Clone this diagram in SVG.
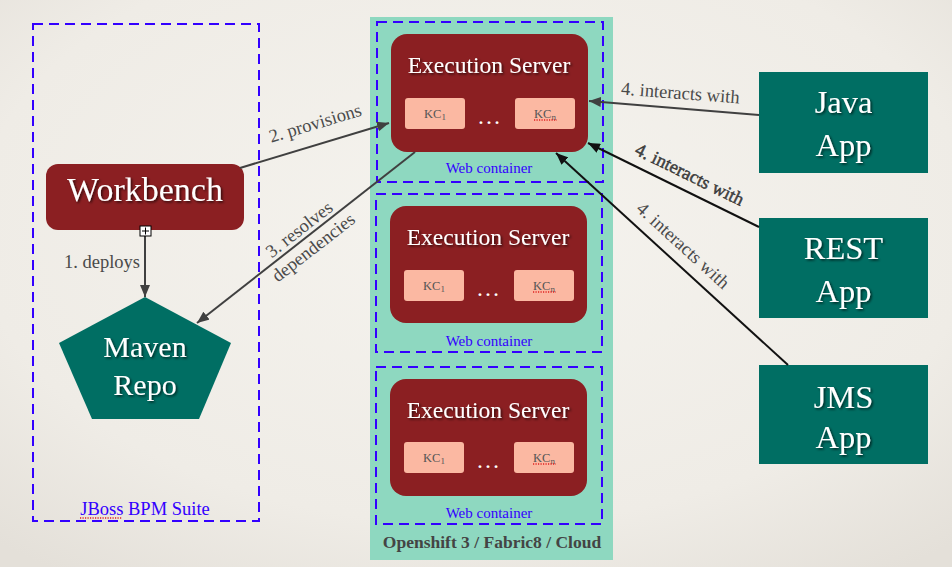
<svg xmlns="http://www.w3.org/2000/svg" width="952" height="567" viewBox="0 0 952 567">
<defs>
<radialGradient id="bg" cx="50%" cy="40%" r="75%">
<stop offset="0" stop-color="#f5f3ee"/>
<stop offset="0.7" stop-color="#efece6"/>
<stop offset="1" stop-color="#e4e0d9"/>
</radialGradient>
<filter id="sh" x="-10%" y="-20%" width="130%" height="150%">
<feDropShadow dx="1.5" dy="1.5" stdDeviation="1.2" flood-color="#000" flood-opacity="0.65"/>
</filter>
<marker id="ag" markerUnits="userSpaceOnUse" markerWidth="14" markerHeight="10" refX="12" refY="5" orient="auto">
<path d="M0,0 L12,5 L0,10 z" fill="#404040"/>
</marker>
<marker id="ab" markerUnits="userSpaceOnUse" markerWidth="14" markerHeight="10" refX="12" refY="5" orient="auto">
<path d="M0,0 L12,5 L0,10 z" fill="#111"/>
</marker>
<style>
.dash{fill:none;stroke:#3300ff;stroke-width:2;stroke-dasharray:10 6}
.srv{fill:#8b1f22}
.kc{fill:#fbb8a2}
.teal{fill:#006e63}
.wt{fill:#fff;font-family:"Liberation Serif",serif;text-anchor:middle;filter:url(#sh)}
.kct{fill:#555;font-family:"Liberation Serif",serif;font-size:12.5px;text-anchor:middle}
.blue{fill:#3300ff;font-family:"Liberation Serif",serif;text-anchor:middle}
.lbl{fill:#4a4a4a;font-family:"Liberation Serif",serif;font-size:18.5px}
.cg{fill:none;stroke:#404040;stroke-width:2;marker-end:url(#ag)}
.cb{fill:none;stroke:#111;stroke-width:2;marker-end:url(#ab)}
.spell{fill:none;stroke:#e02020;stroke-width:1.3;stroke-dasharray:1.2 1.3}
</style>
</defs>
<rect width="952" height="567" fill="url(#bg)"/>

<g id="jboss-suite">
<rect class="dash" x="33" y="24" width="226" height="497"/>
<text class="blue" x="145" y="515" font-size="18.5">JBoss BPM Suite</text>
<line class="spell" x1="80" y1="518" x2="122" y2="518"/>
</g>

<g id="openshift">
<rect x="370" y="17" width="243" height="543" fill="#8ed8c0"/>
<text x="492" y="548" font-family="Liberation Serif, serif" font-weight="bold" font-size="17.5" fill="#444" text-anchor="middle">Openshift 3 / Fabric8 / Cloud</text>
</g>

<g id="web-container-1">
<rect class="dash" x="377" y="22" width="226" height="160"/>
<text class="blue" x="489" y="173" font-size="15">Web container</text>
</g>
<g id="web-container-2">
<rect class="dash" x="376" y="194" width="226" height="158"/>
<text class="blue" x="489" y="345.5" font-size="15">Web container</text>
</g>
<g id="web-container-3">
<rect class="dash" x="376" y="367" width="226" height="157"/>
<text class="blue" x="489" y="518" font-size="15">Web container</text>
</g>

<g id="execution-server-1">
<rect class="srv" x="391" y="34" width="197" height="118" rx="16"/>
<text class="wt" x="489" y="73" font-size="23.5">Execution Server</text>
<rect class="kc" x="405" y="98" width="60" height="31" rx="3"/>
<rect class="kc" x="515" y="98" width="60" height="31" rx="3"/>
<text class="kct" x="435" y="117.5">KC<tspan font-size="9" dy="2">1</tspan></text>
<text class="kct" x="545" y="117.5">KC<tspan font-size="9" dy="2">n</tspan></text>
<line class="spell" x1="534" y1="120" x2="557" y2="120"/>
<text x="489" y="124" font-family="Liberation Serif, serif" font-size="24" fill="#fff" text-anchor="middle">…</text>
</g>
<g id="execution-server-2">
<rect class="srv" x="390" y="206" width="197" height="117" rx="16"/>
<text class="wt" x="488" y="245" font-size="23.5">Execution Server</text>
<rect class="kc" x="404" y="270" width="60" height="31" rx="3"/>
<rect class="kc" x="514" y="270" width="60" height="31" rx="3"/>
<text class="kct" x="434" y="289.5">KC<tspan font-size="9" dy="2">1</tspan></text>
<text class="kct" x="544" y="289.5">KC<tspan font-size="9" dy="2">n</tspan></text>
<line class="spell" x1="533" y1="292" x2="556" y2="292"/>
<text x="488" y="296" font-family="Liberation Serif, serif" font-size="24" fill="#fff" text-anchor="middle">…</text>
</g>
<g id="execution-server-3">
<rect class="srv" x="390" y="379" width="197" height="117" rx="16"/>
<text class="wt" x="488" y="418" font-size="23.5">Execution Server</text>
<rect class="kc" x="404" y="442" width="60" height="31" rx="3"/>
<rect class="kc" x="514" y="442" width="60" height="31" rx="3"/>
<text class="kct" x="434" y="461.5">KC<tspan font-size="9" dy="2">1</tspan></text>
<text class="kct" x="544" y="461.5">KC<tspan font-size="9" dy="2">n</tspan></text>
<line class="spell" x1="533" y1="464" x2="556" y2="464"/>
<text x="488" y="468" font-family="Liberation Serif, serif" font-size="24" fill="#fff" text-anchor="middle">…</text>
</g>

<g id="workbench">
<rect class="srv" x="46" y="164" width="198" height="66" rx="12"/>
<text class="wt" x="145" y="201" font-size="34">Workbench</text>
</g>

<g id="maven-repo">
<polygon class="teal" points="145,297 231,343 199,419 92,419 59,343"/>
<text class="wt" x="145" y="357" font-size="30">Maven</text>
<text class="wt" x="145" y="395" font-size="30">Repo</text>
</g>

<g id="java-app">
<rect class="teal" x="759" y="72" width="169" height="101"/>
<text class="wt" x="843.5" y="113" font-size="32.5">Java</text>
<text class="wt" x="843.5" y="156" font-size="32.5">App</text>
</g>
<g id="rest-app">
<rect class="teal" x="759" y="218" width="169" height="100"/>
<text class="wt" x="843.5" y="259" font-size="32.5">REST</text>
<text class="wt" x="843.5" y="302" font-size="32.5">App</text>
</g>
<g id="jms-app">
<rect class="teal" x="759" y="365" width="169" height="99"/>
<text class="wt" x="843.5" y="408" font-size="32.5">JMS</text>
<text class="wt" x="843.5" y="448" font-size="32.5">App</text>
</g>

<g id="connectors">
<path class="cg" d="M145,236 L145,297"/>
<path class="cg" d="M240,168 L389,123"/>
<path class="cg" d="M415,152 L197,323"/>
<path class="cg" d="M759,115 L589,101"/>
<path class="cb" d="M759,227 L588,143"/>
<path class="cb" d="M788,365 L556,153"/>
<g id="handle">
<rect x="140" y="226" width="11" height="10" fill="#fff" stroke="#000" stroke-width="1"/>
<path d="M145.5,227.5 V234.5 M142,231 H149" stroke="#000" stroke-width="1"/>
</g>
<text class="lbl" x="140" y="268" text-anchor="end">1. deploys</text>
<text class="lbl" x="317" y="129" text-anchor="middle" transform="rotate(-16.8 317 129)">2. provisions</text>
<text class="lbl" text-anchor="middle" transform="translate(306 238) rotate(-38)"><tspan x="0" y="-5">3. resolves</tspan><tspan x="0" y="18">dependencies</tspan></text>
<text class="lbl" x="680" y="99" text-anchor="middle" transform="rotate(4.3 680 99)">4. interacts with</text>
<text class="lbl" x="687" y="180" text-anchor="middle" fill="#222" stroke="#222" stroke-width="0.4" transform="rotate(26.2 687 180)">4. interacts with</text>
<text class="lbl" x="679" y="250" text-anchor="middle" transform="rotate(42.4 679 250)">4. interacts with</text>
</g>
</svg>
